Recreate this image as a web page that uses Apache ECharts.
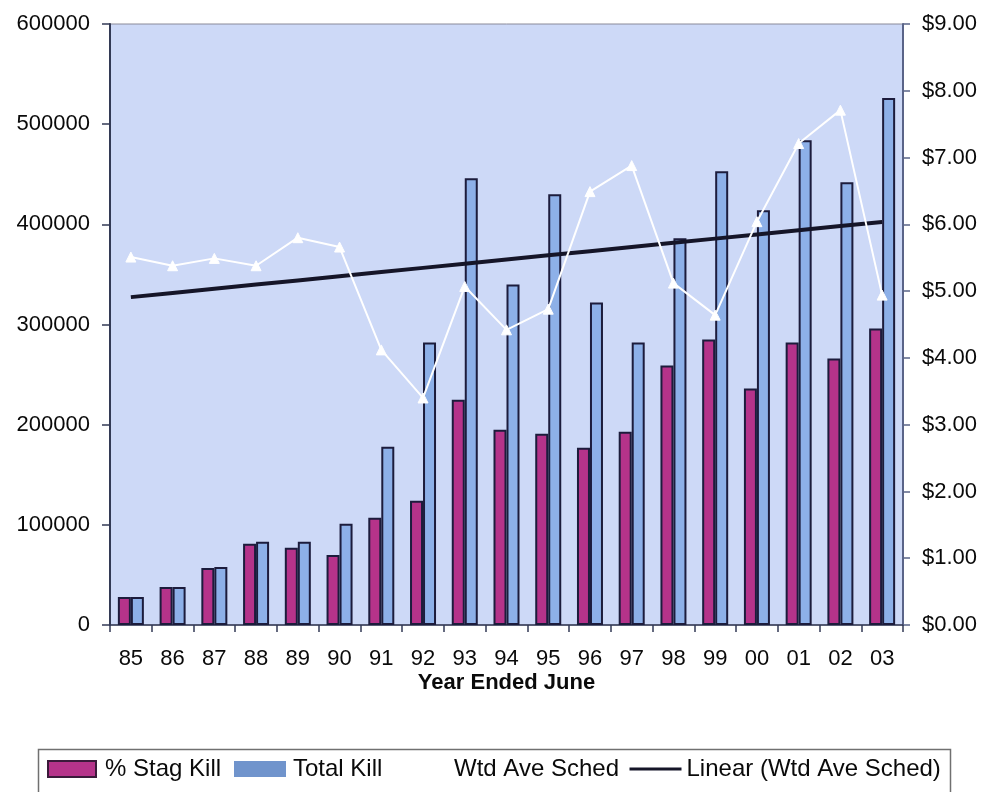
<!DOCTYPE html>
<html>
<head>
<meta charset="utf-8">
<script src="https://cdn.jsdelivr.net/npm/echarts@6/dist/echarts.min.js"></script>
<style>
html,body{margin:0;padding:0;background:#fff;}
#chart{width:987px;height:792px;}
</style>
</head>
<body>
<div id="chart"></div>
<script>
var categories = ['85','86','87','88','89','90','91','92','93','94','95','96','97','98','99','00','01','02','03'];
var stagKill = [28000,38000,57000,81000,77000,70000,107000,124000,225000,195000,191000,177000,193000,259000,285000,236000,282000,266000,296000];
var totalKill = [28000,38000,58000,83000,83000,101000,178000,282000,446000,340000,430000,322000,282000,386000,453000,414000,484000,442000,526000];
var wtdAveSched = [5.51,5.38,5.49,5.38,5.80,5.66,4.12,3.40,5.07,4.42,4.73,6.49,6.88,5.12,4.64,6.04,7.21,7.71,4.94];
var leftTicks = [0,100000,200000,300000,400000,500000,600000];
var rightTicks = [0,1,2,3,4,5,6,7,8,9];

// least-squares linear trend of Wtd Ave Sched (as Excel "Linear" trendline)
function linearTrend(vals){
  var n = vals.length, sx=0, sy=0, sxx=0, sxy=0;
  for (var i=0;i<n;i++){ sx+=i; sy+=vals[i]; sxx+=i*i; sxy+=i*vals[i]; }
  var b = (n*sxy - sx*sy)/(n*sxx - sx*sx);
  var a = (sy - b*sx)/n;
  return vals.map(function(_,i){ return +(a+b*i).toFixed(4); });
}
var trend = linearTrend(wtdAveSched);

var FONT = 'Liberation Sans, Arial, sans-serif';
var legendText = {fontFamily:FONT,fontSize:24,color:'#0a0a0a'};
function leg(name, left, w, h, padLeft, extra){
  var item = Object.assign({name:name}, extra || {});
  return {left:left, top:757, padding:0, itemWidth:w, itemHeight:h, selectedMode:false,
          textStyle:Object.assign({padding:[0,0,0,padLeft]}, legendText), data:[item]};
}
var chart = echarts.init(document.getElementById('chart'), null, {renderer:'canvas'});
chart.setOption({
  animation:false,
  backgroundColor:'#ffffff',
  textStyle:{fontFamily:FONT},
  grid:{left:110,right:84,top:24,bottom:167,show:true,backgroundColor:'#cdd9f7',borderColor:'#8a8a99',borderWidth:1},
  xAxis:{
    type:'category', data:categories,
    name:'Year Ended June', nameLocation:'middle', nameGap:47, nameMoveOverlap:false,
    nameTextStyle:{fontFamily:FONT,fontSize:22,fontWeight:'bold',color:'#0a0a0a'},
    axisLine:{lineStyle:{color:'#333a55',width:1.5}},
    axisTick:{show:true,length:7,lineStyle:{color:'#333a55',width:1.5}},
    axisLabel:{fontFamily:FONT,fontSize:22,color:'#0a0a0a',margin:23}
  },
  yAxis:[
    {type:'value',min:0,max:600000,interval:100000,
     axisLine:{show:true,lineStyle:{color:'#333a55',width:2}},
     axisTick:{show:true,length:8,lineStyle:{color:'#333a55',width:1.5}},
     splitLine:{show:false},
     axisLabel:{fontFamily:FONT,fontSize:22,color:'#0a0a0a',margin:20,
       formatter:function(v){ return leftTicks.indexOf(v)>=0 ? String(v) : ''; }}
    },
    {type:'value',min:0,max:9,interval:1,position:'right',
     axisLine:{show:true,lineStyle:{color:'#5a6488',width:2}},
     axisTick:{show:true,length:7,lineStyle:{color:'#5a6488',width:1.5}},
     splitLine:{show:false},
     axisLabel:{fontFamily:FONT,fontSize:22,color:'#0a0a0a',margin:19,
       formatter:function(v){ return rightTicks.indexOf(v)>=0 ? '$'+v.toFixed(2) : ''; }}
    }
  ],
  legend:[
    leg('% Stag Kill', 47, 48, 16, 4, {icon:'rect', itemStyle:{color:'#b5338a',borderColor:'#3a1a3a',borderWidth:2}}),
    leg('Total Kill', 234, 52, 16, 2, {icon:'rect', itemStyle:{color:'#7094cc',borderWidth:0}}),
    leg('Wtd Ave Sched', 400, 48, 16, 0, {}),
    leg('Linear (Wtd Ave Sched)', 628, 52, 16, 0, {itemStyle:{color:'rgba(0,0,0,0)',borderColor:'rgba(0,0,0,0)',borderWidth:0}, lineStyle:{width:3,color:'#151528'}})
  ],
  graphic:[
    {type:'rect', shape:{x:38.5,y:749.5,width:912,height:60}, style:{fill:'none',stroke:'#707070',lineWidth:1.5}, z:-1}
  ],
  series:[
    {name:'% Stag Kill', type:'bar', data:stagKill, barWidth:13, barGap:'0%',
     itemStyle:{color:'#b5338a',borderColor:'#1c1c3c',borderWidth:2}},
    {name:'Total Kill', type:'bar', data:totalKill, barWidth:13, barGap:'0%',
     itemStyle:{color:'#8db0e8',borderColor:'#1c1c3c',borderWidth:2}},
    {name:'Wtd Ave Sched', type:'line', yAxisIndex:1, data:wtdAveSched,
     symbol:'triangle', symbolSize:10, showSymbol:true,
     lineStyle:{color:'#ffffff',width:2}, itemStyle:{color:'#ffffff',borderColor:'#ffffff'}, z:5},
    {name:'Linear (Wtd Ave Sched)', type:'line', yAxisIndex:1, data:trend,
     symbol:'none', lineStyle:{color:'#151528',width:4}, itemStyle:{color:'#151528'}, z:4}
  ]
});
</script>
</body>
</html>
